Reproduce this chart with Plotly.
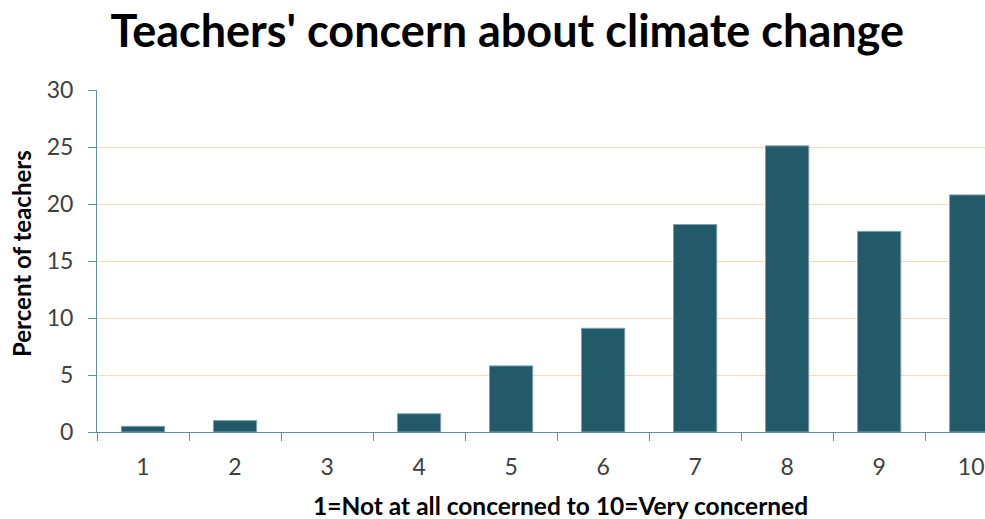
import plotly.graph_objects as go

# Survey results: share of teachers at each concern level
concern_levels = ["1", "2", "3", "4", "5", "6", "7", "8", "9", "10"]
percent_teachers = [0.5, 1.0, 0.0, 1.6, 5.8, 9.1, 18.2, 25.1, 17.6, 20.8]
y_ticks = [0, 5, 10, 15, 20, 25, 30]

BAR = "#235A69"
BAR_EDGE = "#7FA3AE"
AXIS = "#5F8F9B"
GRID = "#F9D8BE"
TEXT = "#404040"
FONT = "Lato"

# no outline on empty bars
edge_widths = [1 if v > 0 else 0 for v in percent_teachers]

fig = go.Figure(
    go.Bar(
        x=concern_levels,
        y=percent_teachers,
        width=0.47,
        marker=dict(color=BAR, line=dict(color=BAR_EDGE, width=edge_widths)),
        hoverinfo="x+y",
    )
)

fig.update_layout(
    width=985,
    height=519,
    margin=dict(l=97, r=0, t=90, b=87),
    paper_bgcolor="white",
    plot_bgcolor="white",
    showlegend=False,
    title=dict(
        text="<b>Teachers' concern about climate change</b>",
        x=0.515,
        xanchor="center",
        y=0.94,
        yanchor="middle",
        font=dict(family=FONT, size=45, color="black"),
    ),
    font=dict(family=FONT, color=TEXT),
    annotations=[
        dict(
            text="<b>1=Not at all concerned to 10=Very concerned</b>",
            xref="paper", yref="paper",
            x=0.522, y=-0.215,
            xanchor="center", yanchor="middle",
            showarrow=False,
            font=dict(family=FONT, size=24.5, color="black"),
        ),
        dict(
            text="<b>Percent of teachers</b>",
            xref="paper", yref="paper",
            x=-0.085, y=0.522,
            xanchor="center", yanchor="middle",
            textangle=-90,
            showarrow=False,
            font=dict(family=FONT, size=24, color="black"),
        ),
    ],
)

fig.update_xaxes(
    type="category",
    range=[-0.5, 9.15],
    tickson="boundaries",
    ticks="outside",
    ticklen=8,
    tickcolor=AXIS,
    tickwidth=1,
    ticklabelstandoff=14,
    showline=True,
    linecolor=AXIS,
    linewidth=1,
    showgrid=False,
    tickfont=dict(family=FONT, size=23, color=TEXT),
)

fig.update_yaxes(
    range=[0, 30],
    tickvals=y_ticks,
    ticks="outside",
    ticklen=8,
    tickcolor=AXIS,
    tickwidth=1,
    ticklabelstandoff=10,
    showline=True,
    linecolor=AXIS,
    linewidth=1,
    showgrid=True,
    gridcolor=GRID,
    gridwidth=1,
    zeroline=False,
    tickfont=dict(family=FONT, size=23, color=TEXT),
)

fig.write_html("out.html")
